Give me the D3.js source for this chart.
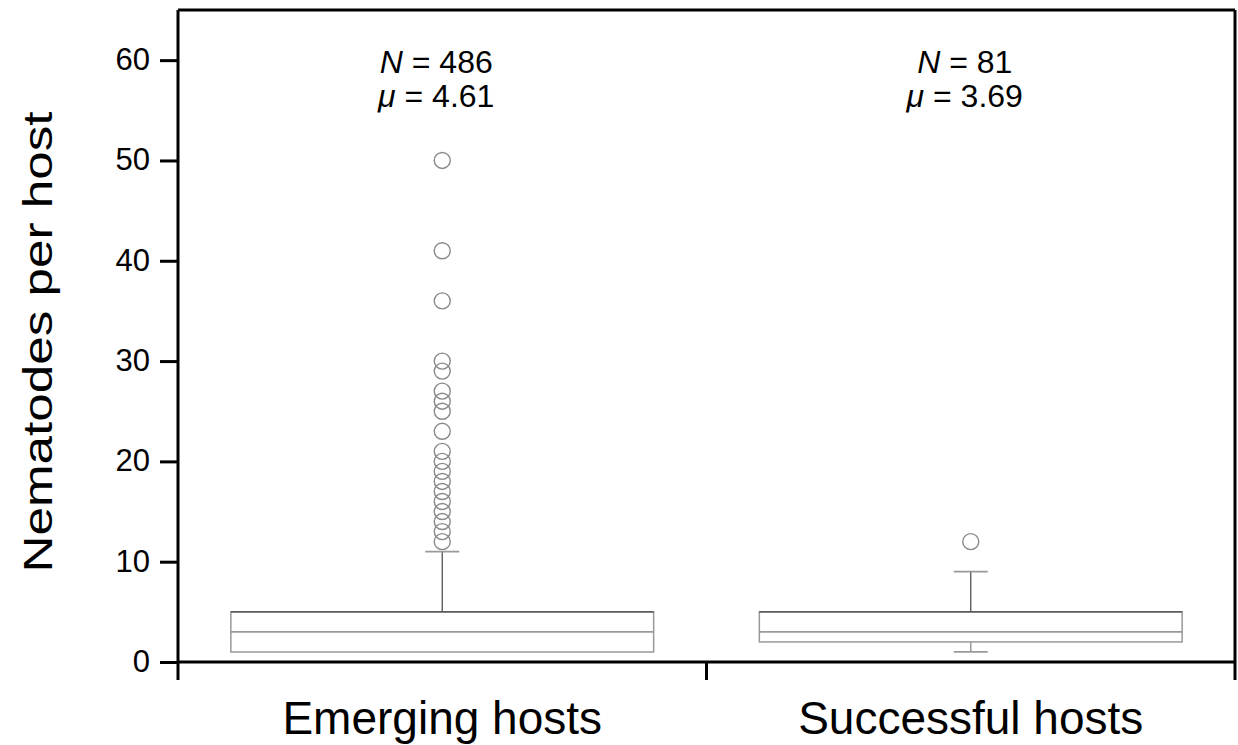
<!DOCTYPE html>
<html>
<head>
<meta charset="utf-8">
<script src="https://cdn.jsdelivr.net/npm/d3@7"></script>
<style>
  body { margin: 0; background: #fff; }
  text { font-family: "Liberation Sans", Arial, Helvetica, sans-serif; fill: #000; }
</style>
</head>
<body>
<div id="chart"></div>
<script>
const categories = ["Emerging hosts", "Successful hosts"];
const nCounts = [486, 81];
const means = [4.61, 3.69];
const q1 = [1, 2];
const medians = [3, 3];
const q3 = [5, 5];
const whiskerLow = [1, 1];
const whiskerHigh = [11, 9];
const outliers = [
  [12, 13, 14, 15, 16, 17, 18, 19, 20, 21, 23, 25, 26, 27, 29, 30, 36, 41, 50],
  [12]
];
const yTicks = [0, 10, 20, 30, 40, 50, 60];

const width = 1238;
const height = 745;

const svg = d3.select("#chart").append("svg")
  .attr("width", width)
  .attr("height", height);

const x = d3.scaleBand().domain(categories).range([178, 1235]).padding(0);
const y = d3.scaleLinear().domain([0, 65]).range([662, 10]);

const boxW = x.bandwidth() * 0.8;
const capW = 34;

// frame: top and right borders
svg.append("line")
  .attr("x1", x.range()[0]).attr("x2", x.range()[1])
  .attr("y1", y(65)).attr("y2", y(65))
  .attr("stroke", "#000").attr("stroke-width", 3);
svg.append("line")
  .attr("x1", x.range()[1]).attr("x2", x.range()[1])
  .attr("y1", y(65)).attr("y2", y(0) + 18)
  .attr("stroke", "#000").attr("stroke-width", 3);

// y axis
const yAxis = svg.append("g")
  .attr("transform", `translate(${x.range()[0]},0)`)
  .call(d3.axisLeft(y).tickValues(yTicks).tickSize(18).tickSizeOuter(0).tickPadding(10));
yAxis.select(".domain").remove();
yAxis.selectAll(".tick line").attr("stroke", "#000").attr("stroke-width", 3);
yAxis.selectAll(".tick text")
  .attr("font-size", 31)
  .attr("font-family", "Liberation Sans, Arial, sans-serif")
  .attr("fill", "#000")
  .attr("dy", "0.3em");
svg.append("line")
  .attr("x1", x.range()[0]).attr("x2", x.range()[0])
  .attr("y1", y(65)).attr("y2", y(0) + 18)
  .attr("stroke", "#000").attr("stroke-width", 3);

// x axis
svg.append("line")
  .attr("x1", x.range()[0]).attr("x2", x.range()[1])
  .attr("y1", y(0)).attr("y2", y(0))
  .attr("stroke", "#000").attr("stroke-width", 3);
svg.append("line")
  .attr("x1", x(categories[1])).attr("x2", x(categories[1]))
  .attr("y1", y(0)).attr("y2", y(0) + 18)
  .attr("stroke", "#000").attr("stroke-width", 3);

svg.selectAll(".xlabel")
  .data(categories)
  .join("text")
  .attr("class", "xlabel")
  .attr("x", d => x(d) + x.bandwidth() / 2)
  .attr("y", 734)
  .attr("text-anchor", "middle")
  .attr("font-size", 46)
  .text(d => d);

// y title
svg.append("text")
  .attr("transform", "translate(52,342) rotate(-90) scale(1.28,1)")
  .attr("text-anchor", "middle")
  .attr("font-size", 40)
  .text("Nematodes per host");

// boxes
categories.forEach((c, i) => {
  const cx = x(c) + x.bandwidth() / 2;
  const g = svg.append("g");

  // whiskers
  g.append("line")
    .attr("x1", cx).attr("x2", cx)
    .attr("y1", y(q3[i])).attr("y2", y(whiskerHigh[i]))
    .attr("stroke", "#444").attr("stroke-width", 1.2);
  g.append("line")
    .attr("x1", cx - capW / 2).attr("x2", cx + capW / 2)
    .attr("y1", y(whiskerHigh[i])).attr("y2", y(whiskerHigh[i]))
    .attr("stroke", "#999").attr("stroke-width", 1.8);
  if (whiskerLow[i] < q1[i]) {
    g.append("line")
      .attr("x1", cx).attr("x2", cx)
      .attr("y1", y(q1[i])).attr("y2", y(whiskerLow[i]))
      .attr("stroke", "#999").attr("stroke-width", 1.5);
    g.append("line")
      .attr("x1", cx - capW / 2).attr("x2", cx + capW / 2)
      .attr("y1", y(whiskerLow[i])).attr("y2", y(whiskerLow[i]))
      .attr("stroke", "#999").attr("stroke-width", 1.8);
  }

  // box
  g.append("rect")
    .attr("x", cx - boxW / 2)
    .attr("y", y(q3[i]))
    .attr("width", boxW)
    .attr("height", y(q1[i]) - y(q3[i]))
    .attr("fill", "#fff")
    .attr("stroke", "#999").attr("stroke-width", 1.5);
  g.append("line")
    .attr("x1", cx - boxW / 2).attr("x2", cx + boxW / 2)
    .attr("y1", y(q3[i])).attr("y2", y(q3[i]))
    .attr("stroke", "#444").attr("stroke-width", 1.2);
  g.append("line")
    .attr("x1", cx - boxW / 2).attr("x2", cx + boxW / 2)
    .attr("y1", y(medians[i])).attr("y2", y(medians[i]))
    .attr("stroke", "#999").attr("stroke-width", 1.8);

  // outliers
  g.selectAll("circle")
    .data(outliers[i])
    .join("circle")
    .attr("cx", cx)
    .attr("cy", d => y(d))
    .attr("r", 8)
    .attr("fill", "none")
    .attr("stroke", "#8a8a8a")
    .attr("stroke-width", 1.4);

  // annotations
  const t1 = svg.append("text")
    .attr("x", cx - 6)
    .attr("y", 73)
    .attr("text-anchor", "middle")
    .attr("font-size", 32);
  t1.append("tspan").attr("font-style", "italic").text("N");
  t1.append("tspan").text(" = " + nCounts[i]);

  const t2 = svg.append("text")
    .attr("x", cx - 6)
    .attr("y", 107)
    .attr("text-anchor", "middle")
    .attr("font-size", 32);
  t2.append("tspan").attr("font-style", "italic").text("\u03bc");
  t2.append("tspan").text(" = " + means[i].toFixed(2));
});
</script>
</body>
</html>
